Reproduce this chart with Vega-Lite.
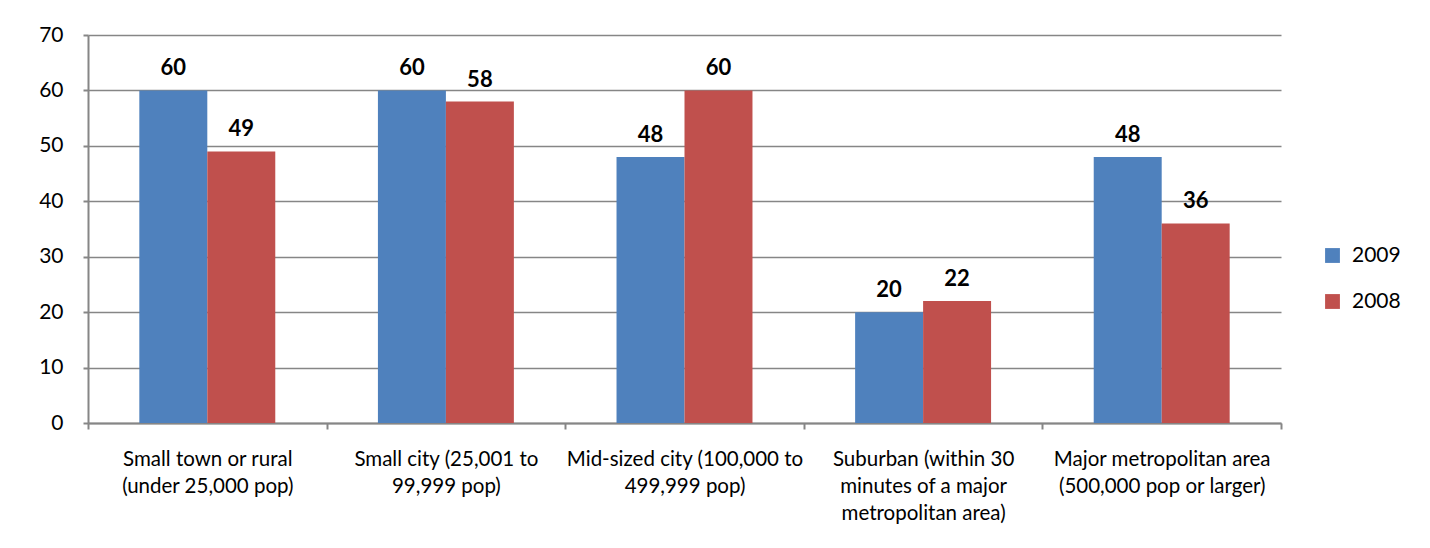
{
  "$schema": "https://vega.github.io/schema/vega-lite/v6.json",
  "autosize": "none",
  "width": 1193,
  "height": 388,
  "padding": {"left": 88, "top": 35, "right": 149, "bottom": 125},
  "background": "white",
  "data": {
    "values": [
      {"category": "Small town or rural|(under 25,000 pop)", "year": "2009", "value": 60},
      {"category": "Small town or rural|(under 25,000 pop)", "year": "2008", "value": 49},
      {"category": "Small city (25,001 to|99,999 pop)", "year": "2009", "value": 60},
      {"category": "Small city (25,001 to|99,999 pop)", "year": "2008", "value": 58},
      {"category": "Mid-sized city (100,000 to|499,999 pop)", "year": "2009", "value": 48},
      {"category": "Mid-sized city (100,000 to|499,999 pop)", "year": "2008", "value": 60},
      {"category": "Suburban (within 30|minutes of a major|metropolitan area)", "year": "2009", "value": 20},
      {"category": "Suburban (within 30|minutes of a major|metropolitan area)", "year": "2008", "value": 22},
      {"category": "Major metropolitan area|(500,000 pop or larger)", "year": "2009", "value": 48},
      {"category": "Major metropolitan area|(500,000 pop or larger)", "year": "2008", "value": 36}
    ]
  },
  "encoding": {
    "x": {
      "field": "category",
      "type": "nominal",
      "sort": null,
      "title": null,
      "scale": {"paddingInner": 0, "paddingOuter": 0},
      "axis": {
        "labelAngle": 0,
        "labelExpr": "split(datum.label, '|')",
        "labelFont": "Lato",
        "labelFontSize": 20.5,
        "labelLineHeight": 27,
        "labelColor": "#000000",
        "labelPadding": 20,
        "labelBaseline": "top",
        "bandPosition": 0,
        "tickBand": "extent",
        "ticks": true,
        "tickSize": 6,
        "tickColor": "#868686",
        "tickWidth": 2,
        "domainColor": "#868686",
        "domainWidth": 2,
        "labelLimit": 300,
        "grid": false
      }
    },
    "xOffset": {
      "field": "year",
      "type": "nominal",
      "sort": ["2009", "2008"],
      "scale": {"paddingInner": 0, "paddingOuter": 0.755}
    },
    "y": {
      "field": "value",
      "type": "quantitative",
      "title": null,
      "scale": {"domain": [0, 70], "nice": false},
      "axis": {
        "values": [0, 10, 20, 30, 40, 50, 60, 70],
        "labelFont": "Lato",
        "labelFontSize": 21,
        "labelColor": "#000000",
        "labelPadding": 20,
        "tickSize": 5,
        "tickColor": "#868686",
        "tickWidth": 2,
        "domainColor": "#868686",
        "domainWidth": 2,
        "gridColor": "#868686",
        "gridWidth": 1.5
      }
    }
  },
  "layer": [
    {
      "mark": {"type": "bar"},
      "encoding": {
        "color": {
          "field": "year",
          "type": "nominal",
          "sort": ["2009", "2008"],
          "scale": {"domain": ["2009", "2008"], "range": ["#4F81BD", "#C0504D"]},
          "legend": {
            "title": null,
            "orient": "none",
            "legendX": 1234,
            "legendY": 210,
            "symbolType": "square",
            "symbolSize": 220,
            "symbolStrokeWidth": 0,
            "labelFont": "Lato",
            "labelFontSize": 21,
            "labelColor": "#000000",
            "labelOffset": 9,
            "rowPadding": 24
          }
        }
      }
    },
    {
      "mark": {"type": "text", "baseline": "bottom", "dy": -10, "font": "Lato", "fontWeight": "bold", "fontSize": 22, "color": "#000000"},
      "encoding": {
        "text": {"field": "value", "type": "quantitative"}
      }
    }
  ],
  "config": {
    "view": {"stroke": null}
  }
}
